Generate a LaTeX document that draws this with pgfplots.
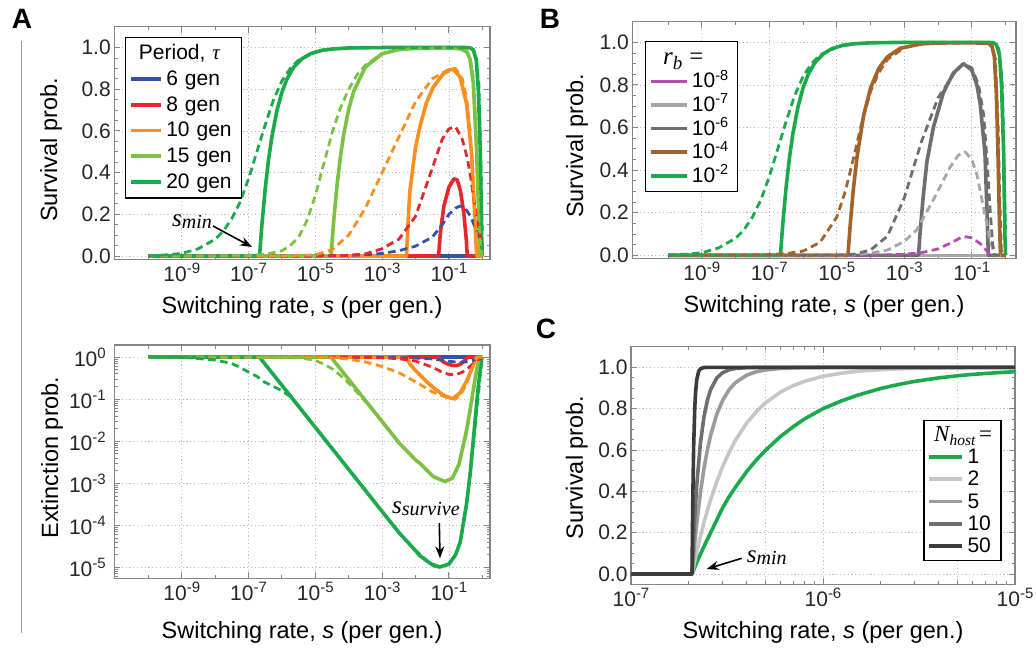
\documentclass[border=0pt]{standalone}
\usepackage{fontspec}
\setmainfont{Liberation Sans}
\newfontfamily\tms{Liberation Serif}
\usepackage{pgfplots}
\usepackage{pgfplotstable}
\pgfplotsset{compat=1.18}
\usetikzlibrary{arrows.meta}

\definecolor{cblue}{HTML}{3553A4}
\definecolor{cred}{HTML}{E8262C}
\definecolor{corange}{HTML}{F7901E}
\definecolor{clgreen}{HTML}{7CC242}
\definecolor{cgreen}{HTML}{1BAA4B}
\definecolor{cpurple}{HTML}{B04FAE}
\definecolor{clgrey}{HTML}{A7A7A7}
\definecolor{cdgrey}{HTML}{6D6E70}
\definecolor{cbrown}{HTML}{A2642B}
\definecolor{cg2}{HTML}{C6C6C6}
\definecolor{cg5}{HTML}{9B9B9B}
\definecolor{cg10}{HTML}{6F6F6F}
\definecolor{cg50}{HTML}{3B3B3B}
\definecolor{framec}{HTML}{858585}
\definecolor{gridc}{HTML}{BEBEBE}

\newcommand{\tfs}{\fontsize{21}{25}\selectfont}
\newcommand{\lfs}{\fontsize{23.5}{28}\selectfont}
\newcommand{\ex}[1]{10\raisebox{8pt}{\fontsize{15}{15}\selectfont #1}}
\newcommand{\exs}[1]{10\raisebox{7.5pt}{\fontsize{14.5}{14.5}\selectfont #1}}

% ---------------- Panel A (top): survival ----------------
\pgfplotstableread{
s P
1e-10 0
2.138e-7 0
2.239e-7 0.045
2.512e-7 0.149
3.162e-7 0.324
3.981e-7 0.463
5.012e-7 0.573
7.079e-7 0.698
1e-6 0.786
1.413e-6 0.849
2.239e-6 0.905
3.981e-6 0.946
7.079e-6 0.97
1.585e-5 0.987
3.162e-5 0.993
1e-4 0.998
1e-3 1.0
0.3388 1.0
0.4365 0.998
0.537 0.989
0.661 0.94
0.7586 0.8
0.871 0.5
0.955 0.1
1 0
}\AgS
\pgfplotstableread{
s P
1e-10 0
3.162e-10 0.005
1e-9 0.012
3.162e-9 0.035
1e-8 0.08
1.778e-8 0.12
3.162e-8 0.18
5.623e-8 0.26
1e-7 0.37
1.778e-7 0.5
3.162e-7 0.63
5.623e-7 0.75
1e-6 0.84
1.778e-6 0.9
3.162e-6 0.94
1e-5 0.978
3.162e-5 0.993
1e-4 0.998
1e-3 1.0
0.3388 1.0
0.5012 0.995
0.631 0.97
0.7943 0.82
0.8913 0.5
1 0.12
}\AgD
\pgfplotstableread{
s P
1e-10 0
2.951e-5 0
3.09e-5 0.045
3.548e-5 0.168
4.467e-5 0.34
5.623e-5 0.475
7.079e-5 0.583
1e-4 0.705
1.413e-4 0.791
3.162e-4 0.907
1e-3 0.97
3.162e-3 0.99
0.01 0.996
0.03162 0.9985
0.07586 0.999
0.1995 0.997
0.3388 0.98
0.4266 0.946
0.537 0.83
0.6761 0.5
0.7586 0.25
0.851 0
1 0
}\AlS
\pgfplotstableread{
s P
1e-10 0
1e-8 0
1e-7 0.003
3.162e-7 0.008
1e-6 0.025
1.778e-6 0.05
3.162e-6 0.09
5.623e-6 0.17
1e-5 0.29
1.778e-5 0.44
3.162e-5 0.59
5.623e-5 0.71
1e-4 0.8
1.778e-4 0.87
3.162e-4 0.915
1e-3 0.972
3.162e-3 0.99
0.01 0.996
0.1 0.999
0.3388 0.985
0.4266 0.955
0.537 0.86
0.6761 0.55
0.7943 0.2
0.8913 0.05
1 0
}\AlD
\pgfplotstableread{
s P
1e-10 0
5.37e-3 0
6.026e-3 0.17
6.761e-3 0.31
0.01 0.52
0.01349 0.62
0.02138 0.737
0.0339 0.81
0.06761 0.874
0.1072 0.893
0.1349 0.895
0.2138 0.86
0.3388 0.73
0.4786 0.49
0.6026 0.17
0.6761 0
1 0
}\AoS
\pgfplotstableread{
s P
1e-10 0
1e-6 0
3.162e-6 0.002
1e-5 0.005
3.162e-5 0.03
1e-4 0.1
3.162e-4 0.23
1e-3 0.4
3.162e-3 0.57
0.01 0.74
0.03162 0.85
0.1 0.895
0.1585 0.9
0.2512 0.85
0.3388 0.76
0.4365 0.6
0.5495 0.3
0.661 0.1
0.7586 0
1 0
}\AoD
\pgfplotstableread{
s P
1e-10 0
0.049 0
0.05623 0.12
0.07079 0.24
0.1 0.33
0.1413 0.37
0.1778 0.365
0.2239 0.31
0.2818 0.2
0.3311 0.08
0.3548 0
1 0
}\ArS
\pgfplotstableread{
s P
1e-10 0
1e-5 0
1e-4 0.003
3.162e-4 0.01
1e-3 0.035
3.162e-3 0.08
0.01 0.19
0.03162 0.42
0.0631 0.56
0.1 0.61
0.1585 0.62
0.2512 0.56
0.3548 0.47
0.4467 0.38
0.5623 0.27
0.6761 0.18
0.851 0.1
1 0.06
}\ArD
\pgfplotstableread{
s P
1e-10 0
1 0
}\AbS
\pgfplotstableread{
s P
1e-10 0
1e-5 0
1e-4 0.003
3.162e-4 0.006
1e-3 0.012
3.162e-3 0.025
0.01 0.047
0.03162 0.09
0.0631 0.15
0.1 0.2
0.1585 0.23
0.2239 0.24
0.3162 0.225
0.4467 0.19
0.631 0.13
0.7943 0.09
1 0.055
}\AbD

% ---------------- Panel A (bottom): extinction ----------------
\pgfplotstableread{
s E
1e-10 1
2.138e-7 1
2.239e-7 0.955
2.512e-7 0.851
3.162e-7 0.676
3.981e-7 0.537
5.012e-7 0.427
7.079e-7 0.302
1e-6 0.214
2.239e-6 0.0955
7.079e-6 0.0302
3.162e-5 6.76e-3
1e-4 2.14e-3
3.162e-4 6.76e-4
1e-3 2.14e-4
3.162e-3 6.8e-5
0.01 2.5e-5
0.01349 1.9e-5
0.02512 1.32e-5
0.0339 1.12e-5
0.0537 1.02e-5
0.1 1.2e-5
0.1585 2.0e-5
0.2188 4.0e-5
0.3388 3.3e-4
0.4365 1.78e-3
0.537 0.0107
0.661 0.063
0.7586 0.2
0.871 0.5
0.955 0.9
1 1
}\AgSe
\pgfplotstableread{
s E
1e-10 1
1e-9 0.995
3.162e-9 0.93
9.33e-9 0.86
2.951e-8 0.72
5.012e-8 0.6
9.12e-8 0.46
1.778e-7 0.35
2.884e-7 0.26
5.012e-7 0.21
9.12e-7 0.166
1.82e-6 0.115
3.162e-6 0.068
1e-5 0.0214
3.162e-5 6.76e-3
1e-4 2.14e-3
3.162e-4 6.76e-4
1e-3 2.14e-4
3.162e-3 6.8e-5
0.01 2.5e-5
0.02512 1.32e-5
0.0537 1.02e-5
0.1 1.2e-5
0.1585 2.0e-5
0.2188 4.0e-5
0.3388 3.3e-4
0.5012 5e-3
0.631 0.03
0.7943 0.18
0.8913 0.5
1 0.88
}\AgDe
\pgfplotstableread{
s E
1e-10 1
2.951e-5 1
3.09e-5 0.955
3.548e-5 0.832
4.467e-5 0.66
5.623e-5 0.525
7.079e-5 0.417
1e-4 0.295
1.413e-4 0.209
3.162e-4 0.093
1e-3 0.0295
3.162e-3 9.3e-3
0.01 3.6e-3
0.01349 3.0e-3
0.0339 1.45e-3
0.07586 1.1e-3
0.1259 1.32e-3
0.1995 2.8e-3
0.3388 0.0186
0.4266 0.054
0.537 0.166
0.6761 0.5
0.7586 0.76
0.851 1
1 1
}\AlSe
\pgfplotstableread{
s E
1e-10 1
1e-6 0.993
3.162e-6 0.966
9.12e-6 0.86
1.778e-5 0.69
3.631e-5 0.5
6.31e-5 0.34
1.122e-4 0.22
1.995e-4 0.132
3.548e-4 0.08
1e-3 0.0295
3.162e-3 9.3e-3
0.01 3.6e-3
0.01349 3.0e-3
0.0339 1.45e-3
0.07586 1.1e-3
0.1259 1.32e-3
0.1995 2.8e-3
0.3388 0.016
0.4266 0.048
0.537 0.15
0.6761 0.45
0.7943 0.8
0.8913 0.95
1 1
}\AlDe
\pgfplotstableread{
s E
1e-10 1
5.37e-3 1
6.026e-3 0.83
6.761e-3 0.69
0.01 0.48
0.01349 0.38
0.02138 0.263
0.0339 0.19
0.06761 0.126
0.1072 0.107
0.1349 0.105
0.2138 0.14
0.3388 0.27
0.4786 0.51
0.6026 0.83
0.6761 1
1 1
}\AoSe
\pgfplotstableread{
s E
1e-10 1
1e-6 1
3.162e-6 0.998
1e-5 0.995
3.162e-5 0.97
1e-4 0.9
3.162e-4 0.77
1e-3 0.6
3.162e-3 0.43
0.01 0.26
0.03162 0.15
0.1 0.105
0.1585 0.1
0.2512 0.15
0.3388 0.24
0.4365 0.4
0.5495 0.7
0.661 0.9
0.7586 1
1 1
}\AoDe
\pgfplotstableread{
s E
1e-10 1
0.049 1
0.05623 0.88
0.07079 0.76
0.1 0.67
0.1413 0.63
0.1778 0.635
0.2239 0.69
0.2818 0.8
0.3311 0.92
0.3548 1
1 1
}\ArSe
\pgfplotstableread{
s E
1e-10 1
1e-5 1
1e-4 0.997
3.162e-4 0.99
1e-3 0.965
3.162e-3 0.92
0.01 0.81
0.03162 0.58
0.0631 0.44
0.1 0.39
0.1585 0.38
0.2512 0.44
0.3548 0.53
0.4467 0.62
0.5623 0.73
0.6761 0.82
0.851 0.9
1 0.94
}\ArDe
\pgfplotstableread{
s E
1e-10 1
1 1
}\AbSe
\pgfplotstableread{
s E
1e-10 1
1e-5 1
1e-4 0.997
3.162e-4 0.994
1e-3 0.988
3.162e-3 0.975
0.01 0.953
0.03162 0.91
0.0631 0.85
0.1 0.8
0.1585 0.77
0.2239 0.76
0.3162 0.775
0.4467 0.81
0.631 0.87
0.7943 0.91
1 0.945
}\AbDe

% ---------------- Panel B ----------------
\pgfplotstableread{
s P
1e-10 0
2.138e-5 0
2.239e-5 0.045
2.512e-5 0.149
3.09e-5 0.31
3.981e-5 0.463
6.31e-5 0.661
1e-4 0.786
1.778e-4 0.88
3.162e-4 0.932
7.586e-4 0.972
3.162e-3 0.993
0.01 0.997
0.1 0.998
0.3162 0.995
0.3981 0.98
0.4677 0.93
0.537 0.75
0.6026 0.45
0.661 0.15
0.7079 0
1 0
}\BbS
\pgfplotstableread{
s P
1e-10 0
1e-8 0
1e-7 0.003
3.162e-7 0.008
1e-6 0.02
3.162e-6 0.06
1e-5 0.18
1.778e-5 0.3
3.162e-5 0.46
5.623e-5 0.63
1e-4 0.77
1.778e-4 0.86
3.162e-4 0.92
1e-3 0.975
3.162e-3 0.993
0.01 0.997
0.1 0.998
0.3162 0.995
0.3981 0.985
0.5012 0.92
0.6026 0.6
0.6761 0.25
0.7586 0
1 0
}\BbD
\pgfplotstableread{
s P
1e-10 0
2.63e-3 0
2.951e-3 0.11
3.548e-3 0.26
4.677e-3 0.44
7.244e-3 0.6
0.01445 0.765
0.02818 0.855
0.05623 0.9
0.1 0.87
0.1413 0.8
0.1778 0.71
0.2455 0.48
0.2884 0.16
0.309 0
1 0
}\BkS
\pgfplotstableread{
s P
1e-10 0
1e-5 0
3.162e-5 0.005
1e-4 0.025
3.162e-4 0.09
1e-3 0.27
3.162e-3 0.53
0.01 0.74
0.03162 0.86
0.05623 0.9
0.1 0.88
0.1585 0.8
0.2239 0.66
0.2818 0.45
0.3467 0.22
0.4169 0.05
0.4786 0
1 0
}\BkD
\pgfplotstableread{
s P
1e-10 0
1e-5 0
3.162e-5 0.002
1e-4 0.01
3.162e-4 0.025
1e-3 0.065
2.344e-3 0.12
7.244e-3 0.26
0.02291 0.415
0.03981 0.47
0.0631 0.486
0.1 0.45
0.1413 0.38
0.2188 0.23
0.3467 0.07
0.4898 0
1 0
}\BlD
\pgfplotstableread{
s P
1e-10 0
1e-4 0
3.162e-4 0.002
1e-3 0.005
3.162e-3 0.012
0.01 0.03
0.02512 0.06
0.05623 0.089
0.1 0.082
0.1778 0.055
0.2818 0.02
0.3548 0
1 0
}\BpD
\pgfplotstableread{
s P
1e-10 0
1 0
}\BzS

% ---------------- Panel C ----------------
\pgfplotstableread{
s P
1e-7 0
2.08e-7 0
2.1e-7 0.0095
2.15e-7 0.033
2.2e-7 0.055
2.3e-7 0.096
2.4e-7 0.133
2.5e-7 0.168
2.6e-7 0.2
2.8e-7 0.262
3e-7 0.32
3.25e-7 0.375
3.5e-7 0.42
4e-7 0.495
4.5e-7 0.552
5e-7 0.597
6e-7 0.665
7e-7 0.713
8e-7 0.75
1e-6 0.8
1.25e-6 0.838
1.5e-6 0.864
2e-6 0.898
2.5e-6 0.918
3e-6 0.932
4e-6 0.949
5e-6 0.959
6e-6 0.966
8e-6 0.974
1e-5 0.979
}\Cone
\pgfplotstableread{
s P
1e-7 0
2.08e-7 0
2.1e-7 0.019
2.15e-7 0.064
2.2e-7 0.106
2.3e-7 0.182
2.4e-7 0.249
2.5e-7 0.308
2.6e-7 0.36
2.8e-7 0.448
3e-7 0.519
3.25e-7 0.59
3.5e-7 0.647
4e-7 0.73
4.5e-7 0.786
5e-7 0.827
6e-7 0.88
7e-7 0.912
8e-7 0.932
1e-6 0.957
1.25e-6 0.972
1.5e-6 0.981
2e-6 0.989
2.5e-6 0.993
3e-6 0.995
4e-6 0.997
5e-6 0.998
7e-6 0.999
1e-5 0.9996
}\Ctwo
\pgfplotstableread{
s P
1e-7 0
2.08e-7 0
2.1e-7 0.047
2.15e-7 0.153
2.2e-7 0.244
2.3e-7 0.395
2.4e-7 0.511
2.5e-7 0.601
2.6e-7 0.672
2.8e-7 0.774
3e-7 0.84
3.25e-7 0.893
3.5e-7 0.926
4e-7 0.962
4.5e-7 0.979
5e-7 0.9875
6e-7 0.995
7e-7 0.9977
8e-7 0.9988
1e-6 0.9996
1e-5 1
}\Cfive
\pgfplotstableread{
s P
1e-7 0
2.08e-7 0
2.1e-7 0.091
2.15e-7 0.283
2.2e-7 0.429
2.3e-7 0.634
2.4e-7 0.761
2.5e-7 0.841
2.6e-7 0.893
2.8e-7 0.949
3e-7 0.974
3.25e-7 0.9885
3.5e-7 0.9945
4e-7 0.9986
4.5e-7 0.9996
5e-7 1
1e-5 1
}\Cten
\pgfplotstableread{
s P
1e-7 0
2.08e-7 0
2.09e-7 0.213
2.1e-7 0.38
2.12e-7 0.614
2.15e-7 0.81
2.17e-7 0.88
2.2e-7 0.939
2.25e-7 0.98
2.3e-7 0.9935
2.4e-7 0.9992
2.5e-7 1
1e-5 1
}\Cfifty

\pgfplotsset{
  mybase/.style={
    scale only axis, anchor=south west,
    axis line style={draw=framec, line width=1.4pt},
    every tick/.style={draw=framec, line width=0.9pt},
    tick align=inside,
    major tick length=6pt, minor tick length=3.5pt,
    xmajorgrids, ymajorgrids,
    major grid style={draw=gridc, line width=0.8pt, dash pattern=on 1.2pt off 2.6pt},
    tick label style={font=\tfs, text=black!85},
    xlabel style={font=\lfs, anchor=base},
    ylabel style={font=\lfs, anchor=center},
    legend cell align=left,
  },
  mysol/.style={line width=3.6pt, line join=round},
  mydsh/.style={line width=2.8pt, dash pattern=on 7.5pt off 4.5pt, line join=round},
}

\begin{document}
\begin{tikzpicture}
\useasboundingbox (0pt,0pt) rectangle (1036pt,-652pt);

% ===== Panel A top =====
\begin{axis}[mybase,
  at={(114.3pt,-259.3pt)}, width=375.7pt, height=232.6pt,
  xmode=log, xmin=9.55e-12, xmax=1.70, ymin=-0.016, ymax=1.1,
  xtick={1e-9,1e-7,1e-5,1e-3,1e-1},
  xticklabels={\ex{-9},\ex{-7},\ex{-5},\ex{-3},\ex{-1}},
  minor xtick={1e-10,1e-8,1e-6,1e-4,1e-2,1},
  ytick={0,0.2,0.4,0.6,0.8,1.0},
  yticklabels={0.0,0.2,0.4,0.6,0.8,1.0},
  minor y tick num=3,
  xlabel={Switching rate, \textit{s} (per gen.)},
  ylabel={Survival prob.},
  xlabel style={at={(axis description cs:0.5,-0.231)}},
  ylabel style={at={(axis description cs:-0.1685,0.47)}},
  legend style={at={(0.0285,0.957)}, anchor=north west, draw=black, line width=1.3pt,
    fill=white, font=\tfs, inner xsep=3.7pt, inner ysep=6pt, row sep=5.7pt,
    nodes={inner xsep=3.3pt, inner ysep=1.5pt, text height=15pt, text depth=2pt, text width=68pt}},
  legend image code/.code={\path (0pt,0pt) -- (30pt,0pt); \draw[#1] (4pt,0pt) -- (26pt,0pt);},
]
\addlegendimage{empty legend}
\addlegendentry{\hspace*{-27.3pt}\mbox{Period, {\tms\itshape τ}}}
\addplot[mysol, cblue] table[x=s,y=P]{\AbS};   \addlegendentry{6 gen}
\addplot[mysol, cred] table[x=s,y=P]{\ArS};    \addlegendentry{8 gen}
\addplot[mysol, corange] table[x=s,y=P]{\AoS}; \addlegendentry{10 gen}
\addplot[mysol, clgreen] table[x=s,y=P]{\AlS}; \addlegendentry{15 gen}
\addplot[mysol, cgreen] table[x=s,y=P]{\AgS};  \addlegendentry{20 gen}
\addplot[mydsh, cblue, forget plot] table[x=s,y=P]{\AbD};
\addplot[mydsh, cred, forget plot] table[x=s,y=P]{\ArD};
\addplot[mydsh, corange, forget plot] table[x=s,y=P]{\AoD};
\addplot[mydsh, clgreen, forget plot] table[x=s,y=P]{\AlD};
\addplot[mydsh, cgreen, forget plot] table[x=s,y=P]{\AgD};
\end{axis}

% ===== Panel A bottom =====
\begin{axis}[mybase,
  at={(114.3pt,-578.3pt)}, width=375.7pt, height=233.3pt,
  xmode=log, ymode=log,
  xmin=9.55e-12, xmax=1.70, ymin=5.5e-6, ymax=1.95,
  xtick={1e-9,1e-7,1e-5,1e-3,1e-1},
  xticklabels={\ex{-9},\ex{-7},\ex{-5},\ex{-3},\ex{-1}},
  minor xtick={1e-10,1e-8,1e-6,1e-4,1e-2,1},
  ytick={1e-5,1e-4,1e-3,1e-2,1e-1,1},
  yticklabels={\ex{-5},\ex{-4},\ex{-3},\ex{-2},\ex{-1},\ex{0}},
  yticklabel style={xshift=-5pt},
  minor ytick={6e-6,7e-6,8e-6,9e-6,2e-5,3e-5,4e-5,5e-5,6e-5,7e-5,8e-5,9e-5,2e-4,3e-4,4e-4,5e-4,6e-4,7e-4,8e-4,9e-4,2e-3,3e-3,4e-3,5e-3,6e-3,7e-3,8e-3,9e-3,0.02,0.03,0.04,0.05,0.06,0.07,0.08,0.09,0.2,0.3,0.4,0.5,0.6,0.7,0.8,0.9},
  xlabel={Switching rate, \textit{s} (per gen.)},
  ylabel={Extinction prob.},
  xlabel style={at={(axis description cs:0.5,-0.256)}},
  ylabel style={at={(axis description cs:-0.166,0.518)}},
]
\addplot[mysol, cblue] table[x=s,y=E]{\AbSe};
\addplot[mysol, cred] table[x=s,y=E]{\ArSe};
\addplot[mysol, corange] table[x=s,y=E]{\AoSe};
\addplot[mysol, clgreen] table[x=s,y=E]{\AlSe};
\addplot[mysol, cgreen] table[x=s,y=E]{\AgSe};
\addplot[mydsh, cblue] table[x=s,y=E]{\AbDe};
\addplot[mydsh, cred] table[x=s,y=E]{\ArDe};
\addplot[mydsh, corange] table[x=s,y=E]{\AoDe};
\addplot[mydsh, clgreen] table[x=s,y=E]{\AlDe};
\addplot[mydsh, cgreen] table[x=s,y=E]{\AgDe};
\end{axis}

% ===== Panel B =====
\begin{axis}[mybase,
  at={(632.3pt,-258.3pt)}, width=383.7pt, height=236.6pt,
  xmode=log, xmin=8.7e-12, xmax=2.04, ymin=-0.014, ymax=1.097,
  xtick={1e-9,1e-7,1e-5,1e-3,1e-1},
  xticklabels={\ex{-9},\ex{-7},\ex{-5},\ex{-3},\ex{-1}},
  minor xtick={1e-10,1e-8,1e-6,1e-4,1e-2,1},
  ytick={0,0.2,0.4,0.6,0.8,1.0},
  yticklabels={0.0,0.2,0.4,0.6,0.8,1.0},
  minor y tick num=3,
  xlabel={Switching rate, \textit{s} (per gen.)},
  ylabel={Survival prob.},
  xlabel style={at={(axis description cs:0.5,-0.231)}},
  ylabel style={at={(axis description cs:-0.144,0.475)}},
  legend style={at={(0.033,0.918)}, anchor=north west, draw=black, line width=1.3pt,
    fill=white, font=\tfs, inner xsep=3.7pt, inner ysep=6pt, row sep=3.6pt,
    nodes={inner xsep=3.3pt, inner ysep=1.5pt, text height=15pt, text depth=2pt, text width=38.5pt}},
  legend image code/.code={\path (0pt,0pt) -- (35.7pt,0pt); \draw[#1] (9pt,0pt) -- (33.6pt,0pt);},
]
\addlegendimage{empty legend}
\addlegendentry{\hspace*{-28.7pt}\mbox{\tms\fontsize{25}{25}\selectfont\itshape r\raisebox{-5pt}{\fontsize{19}{19}\selectfont b}\upshape\ =}}
\addplot[mysol, cpurple] table[x=s,y=P]{\BzS}; \addlegendentry{\exs{-8}}
\addplot[mysol, clgrey] table[x=s,y=P]{\BzS};  \addlegendentry{\exs{-7}}
\addplot[mysol, cdgrey] table[x=s,y=P]{\BkS};  \addlegendentry{\exs{-6}}
\addplot[mysol, cbrown] table[x=s,y=P]{\BbS};  \addlegendentry{\exs{-4}}
\addplot[mysol, cgreen] table[x=s,y=P]{\AgS};  \addlegendentry{\exs{-2}}
\addplot[mydsh, cpurple, forget plot] table[x=s,y=P]{\BpD};
\addplot[mydsh, clgrey, forget plot] table[x=s,y=P]{\BlD};
\addplot[mydsh, cdgrey, forget plot] table[x=s,y=P]{\BkD};
\addplot[mydsh, cbrown, forget plot] table[x=s,y=P]{\BbD};
\addplot[mydsh, cgreen, forget plot] table[x=s,y=P]{\AgD};
\end{axis}

% ===== Panel C =====
\begin{axis}[mybase,
  at={(631pt,-584.3pt)}, width=384pt, height=237.6pt,
  xmode=log, xmin=1e-7, xmax=1e-5, ymin=-0.05, ymax=1.1,
  xtick={1e-7,1e-6,1e-5}, xticklabels={\ex{-7},\ex{-6},\ex{-5}},
  minor xtick={2e-7,3e-7,4e-7,6e-7,7e-7,8e-7,9e-7,2e-6,3e-6,4e-6,6e-6,7e-6,8e-6,9e-6},
  extra x ticks={5e-7,5e-6}, extra x tick labels={},
  extra x tick style={major tick length=3.5pt},
  ytick={0,0.2,0.4,0.6,0.8,1.0},
  yticklabels={0.0,0.2,0.4,0.6,0.8,1.0},
  minor y tick num=3,
  xlabel={Switching rate, \textit{s} (per gen.)},
  ylabel={Survival prob.},
  xlabel style={at={(axis description cs:0.5,-0.226)}},
  ylabel style={at={(axis description cs:-0.1414,0.4916)}},
  legend style={at={(0.965,0.6915)}, anchor=north east, draw=black, line width=1.3pt,
    fill=white, font=\tfs, inner xsep=3.7pt, inner ysep=4pt, row sep=2.3pt,
    nodes={inner xsep=3.3pt, inner ysep=1.5pt, text height=15pt, text depth=2pt, text width=26.4pt}},
  legend image code/.code={\path (0pt,0pt) -- (33pt,0pt); \draw[#1] (6.3pt,0pt) -- (29.7pt,0pt);},
]
\addlegendimage{empty legend}
\addlegendentry{\hspace*{-33.3pt}\mbox{\tms\fontsize{23}{23}\selectfont\itshape N\raisebox{-4pt}{\fontsize{15.5}{15.5}\selectfont host}\upshape\,=}}
\addplot[mysol, cgreen] table[x=s,y=P]{\Cone};  \addlegendentry{1}
\addplot[mysol, cg2] table[x=s,y=P]{\Ctwo};     \addlegendentry{2}
\addplot[mysol, cg5] table[x=s,y=P]{\Cfive};    \addlegendentry{5}
\addplot[mysol, cg10] table[x=s,y=P]{\Cten};    \addlegendentry{10}
\addplot[mysol, cg50] table[x=s,y=P]{\Cfifty};  \addlegendentry{50}
\end{axis}

% ===== Panel letters, separator, annotations =====
\node[font=\bfseries\fontsize{28}{28}\selectfont] at (22pt,-19pt) {A};
\node[font=\bfseries\fontsize{28}{28}\selectfont] at (550pt,-19pt) {B};
\node[font=\bfseries\fontsize{28}{28}\selectfont] at (546pt,-329pt) {C};
\draw[color=black!40, line width=1.3pt] (21.7pt,-41pt) -- (21.7pt,-633pt);

\node[anchor=base west, inner sep=0pt] at (172pt,-226.7pt)
  {\tms\itshape\fontsize{25}{25}\selectfont s\raisebox{-2pt}{\fontsize{20}{20}\selectfont min}};
\draw[line width=1.6pt, -{Stealth[length=12pt,width=9pt]}] (213pt,-226pt) -- (252pt,-247pt);

\node[anchor=base west, inner sep=0pt] at (392pt,-513.3pt)
  {\tms\itshape\fontsize{25}{25}\selectfont s\raisebox{-2pt}{\fontsize{20}{20}\selectfont survive}};
\draw[line width=1.6pt, -{Stealth[length=12pt,width=9pt]}] (439.3pt,-523pt) -- (440pt,-558.3pt);

\node[anchor=base west, inner sep=0pt] at (746.7pt,-562.3pt)
  {\tms\itshape\fontsize{25}{25}\selectfont s\raisebox{-2pt}{\fontsize{20}{20}\selectfont min}};
\draw[line width=1.6pt, -{Stealth[length=12pt,width=9pt]}] (741.7pt,-558.3pt) -- (706.7pt,-569pt);
\end{tikzpicture}
\end{document}
